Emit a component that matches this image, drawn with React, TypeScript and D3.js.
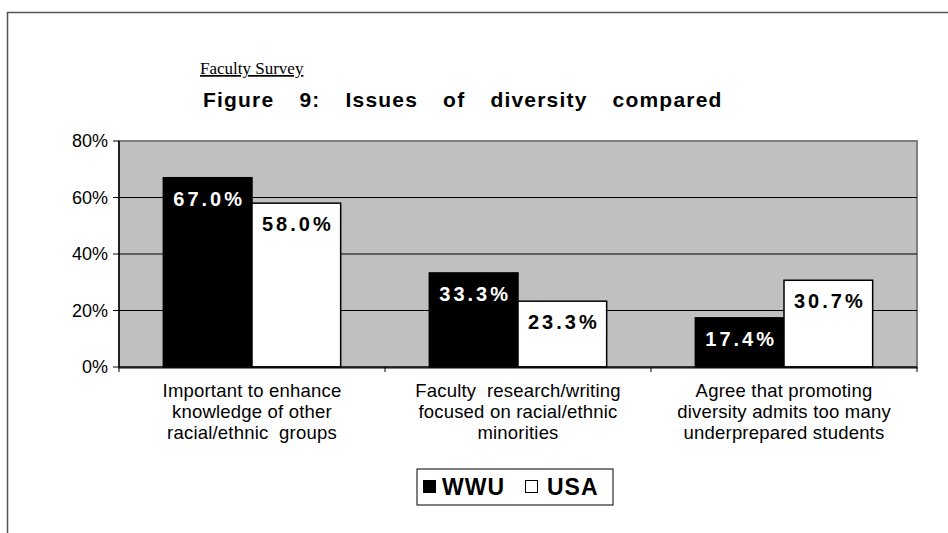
import React from 'react'
import * as d3 from 'd3'

// categories (axis label lines) and the two series
const categories = ['enhance', 'research', 'admits']
const categoryLines = [
	['Important to enhance', 'knowledge of other', 'racial/ethnic  groups'],
	['Faculty  research/writing', 'focused on racial/ethnic', 'minorities'],
	['Agree that promoting', 'diversity admits too many', 'underprepared students'],
]
const seriesNames = ['WWU', 'USA']
const wwuValues = [0.67, 0.333, 0.174]
const usaValues = [0.58, 0.233, 0.307]
const yTicks = [0, 0.2, 0.4, 0.6, 0.8]

const sans = '"Liberation Sans", Arial, sans-serif'

export default function App() {
	const width = 948
	const height = 533
	const left = 119, right = 917, top = 141, bottom = 367

	const x = d3.scaleBand().domain(categories).range([left, right]).padding(0)
	const xs = d3.scaleBand().domain(seriesNames).range([0, x.bandwidth()]).paddingInner(0).paddingOuter(0.5)
	const y = d3.scaleLinear().domain([0, 0.8]).range([bottom, top])
	const fmtTick = d3.format('.0%')
	const fmtLabel = d3.format('.1%')

	const series = [
		{ name: 'WWU', values: wwuValues, fill: '#000', text: '#fff' },
		{ name: 'USA', values: usaValues, fill: '#fff', text: '#000' },
	]

	const tickXs = [...categories.map(c => x(c)), right]

	return (
		<svg width={width} height={height} style={{ position: 'absolute', left: 0, top: 0, background: '#fff' }}>
			{/* outer frame */}
			<rect x={7.5} y={12.5} width={960} height={560} fill="none" stroke="#555" strokeWidth={1.5} />

			<text x={200} y={74} fontFamily='"Liberation Serif", serif' fontSize={17} textDecoration="underline">Faculty Survey</text>
			<text x={203} y={107} fontFamily={sans} fontSize={21} fontWeight="bold" letterSpacing={1.2} wordSpacing={18}>Figure 9: Issues of diversity compared</text>

			{/* plot area */}
			<rect x={left} y={top} width={right - left} height={bottom - top + 1} fill="#c0c0c0" stroke="#808080" strokeWidth={2} />
			{yTicks.filter(t => t > 0 && t < 0.8).map(t => (
				<line key={t} x1={left} x2={right} y1={y(t)} y2={y(t)} stroke="#000" strokeWidth={1} />
			))}

			{series.map(s => (
				<g key={s.name}>
					{categories.map((c, i) => (
						<rect key={c} x={x(c) + xs(s.name)} y={y(s.values[i])} width={xs.bandwidth()} height={bottom - y(s.values[i])}
							fill={s.fill} stroke="#000" strokeWidth={1.5} />
					))}
				</g>
			))}

			{series.map(s => (
				<g key={s.name + 'l'}>
					{categories.map((c, i) => (
						<text key={c} x={x(c) + xs(s.name) + xs.bandwidth() / 2 + 1.5} y={y(s.values[i]) + 28} textAnchor="middle"
							fontFamily={sans} fontSize={20} fontWeight="bold" letterSpacing={3} fill={s.text}>{fmtLabel(s.values[i])}</text>
					))}
				</g>
			))}

			{/* axes */}
			<line x1={left} x2={left} y1={top} y2={bottom} stroke="#000" strokeWidth={1.5} />
			<line x1={left} x2={right} y1={bottom} y2={bottom} stroke="#000" strokeWidth={1.5} />
			{yTicks.map(t => (
				<g key={t}>
					<line x1={left - 6} x2={left} y1={y(t)} y2={y(t)} stroke="#000" strokeWidth={1} />
					<text x={108} y={y(t)} dy="0.35em" textAnchor="end" fontFamily={sans} fontSize={18}>{fmtTick(t)}</text>
				</g>
			))}
			{tickXs.map((tx, i) => (
				<line key={i} x1={tx} x2={tx} y1={bottom} y2={bottom + 5} stroke="#000" strokeWidth={1} />
			))}

			{categories.map((c, i) => (
				<text key={c} textAnchor="middle" fontFamily={sans} fontSize={18.5} letterSpacing={0.2}>
					{categoryLines[i].map((ln, j) => (
						<tspan key={j} x={x(c) + x.bandwidth() / 2} y={397 + j * 21} style={{ whiteSpace: 'pre' }}>{ln}</tspan>
					))}
				</text>
			))}

			{/* legend */}
			<rect x={417} y={469} width={196} height={36} fill="#fff" stroke="#000" strokeWidth={1} />
			<rect x={423} y={480} width={13} height={13} fill="#000" />
			<text x={442} y={495} fontFamily={sans} fontSize={23} fontWeight="bold" letterSpacing={1}>WWU</text>
			<rect x={525.5} y={480.5} width={12} height={12} fill="#fff" stroke="#000" strokeWidth={1} />
			<text x={547} y={495} fontFamily={sans} fontSize={23} fontWeight="bold" letterSpacing={1}>USA</text>
		</svg>
	)
}
